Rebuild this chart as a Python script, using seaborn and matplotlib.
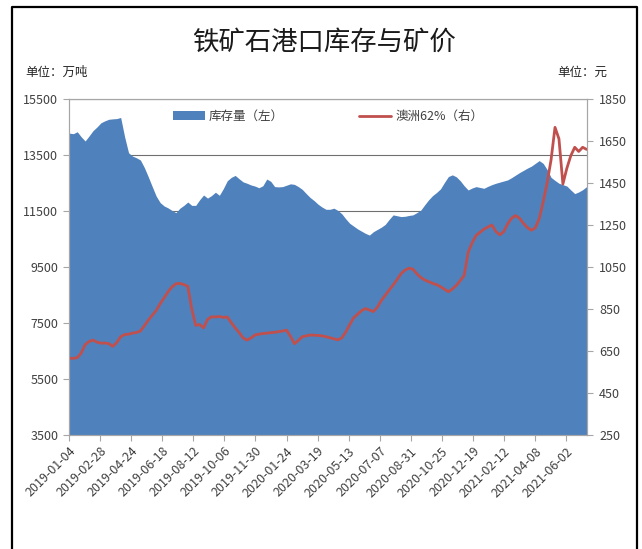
import numpy as np
import pandas as pd
import seaborn as sns
import matplotlib.pyplot as plt
import matplotlib.dates as mdates
from matplotlib.patches import Patch
from matplotlib.lines import Line2D

# 주간 데이터: 2019-01-04 부터
start_date = "2019-01-04"
n_weeks = 132

# 港口库存 (万吨), 左轴
stock = [
    14280, 14260, 14330, 14150, 14000, 14180, 14370, 14500, 14650, 14720,
    14775, 14790, 14800, 14840, 14150, 13580, 13460, 13400, 13320, 13050,
    12720, 12370, 12030, 11800, 11680, 11610, 11520, 11440, 11600, 11700,
    11820, 11700, 11700, 11900, 12070, 11960, 12050, 12170, 12060, 12300,
    12580, 12700, 12770, 12650, 12540, 12490, 12430, 12390, 12330, 12400,
    12640, 12560, 12370, 12360, 12370, 12420, 12470, 12450, 12370, 12270,
    12120, 11980, 11870, 11740, 11640, 11560, 11560, 11600, 11520, 11400,
    11220, 11060, 10960, 10860, 10780, 10700, 10640, 10760, 10840, 10920,
    11020, 11200, 11360, 11330, 11300, 11310, 11340, 11360, 11440, 11530,
    11720, 11900, 12050, 12160, 12290, 12520, 12730, 12790, 12720, 12580,
    12400, 12250, 12320, 12370, 12340, 12310, 12380, 12440, 12490, 12530,
    12570, 12610, 12690, 12780, 12870, 12950, 13030, 13100, 13200, 13300,
    13200, 12980, 12700, 12590, 12490, 12440, 12390, 12250, 12120, 12180,
    12260, 12370,
]

# 澳洲62% 矿价 (元), 右轴
price = [
    615, 615, 618, 640, 680, 695, 702, 692, 687, 688,
    685, 672, 690, 718, 728, 730, 735, 738, 745, 770,
    797, 820, 843, 875, 903, 932, 955, 970, 972, 966,
    958, 850, 772, 776, 760, 800, 813, 812, 814, 810,
    812, 785, 760, 738, 712, 702, 712, 726, 730, 733,
    735, 737, 739, 742, 745, 749, 720, 685, 700, 718,
    722, 726, 725, 724, 722, 718, 713, 708, 703, 712,
    740, 775, 808, 825, 842, 852, 845, 838, 858, 890,
    915, 940, 964, 990, 1018, 1035, 1044, 1040, 1018, 1000,
    988, 980, 972, 966, 956, 944, 932, 945, 962, 985,
    1010, 1120, 1165, 1200, 1215, 1230, 1240, 1250, 1220, 1203,
    1218, 1255, 1282, 1295, 1282, 1258, 1238, 1225, 1236, 1280,
    1360, 1450, 1560, 1715, 1660, 1445, 1520, 1580, 1620, 1600,
    1620, 1610,
]

title = "铁矿石港口库存与矿价"
stock_label = "库存量（左）"
price_label = "澳洲62%（右）"
tick_dates = pd.date_range("2019-01-04", periods=17, freq="55D")

dates = pd.date_range(start_date, periods=n_weeks, freq="7D")
df = pd.DataFrame({"date": dates, "stock": stock, "price": price})

sns.set_theme(style="white")
plt.rcParams["font.family"] = ["Noto Sans CJK SC", "DejaVu Sans"]

blue = "#4F81BD"
red = "#C0504D"
gray = "#A6A6A6"
txt = "#404040"

fig = plt.figure(figsize=(6.42, 5.49), dpi=100)
ax = fig.add_axes([0.108, 0.2077, 0.8057, 0.612])

# 库存 area
ax.fill_between(df["date"], 3500, df["stock"], color=blue, linewidth=0, zorder=1)
ax.set_ylim(3500, 15500)
ax.set_yticks(np.arange(3500, 15501, 2000))
ax.set_xlim(dates[0], dates[-1])
ax.set_axisbelow(True)
ax.yaxis.grid(True, color="#6F6F6F", linewidth=0.8)
ax.xaxis.grid(False)

# 价格 line on right axis
ax2 = ax.twinx()
sns.lineplot(data=df, x="date", y="price", ax=ax2, color=red, linewidth=2.0)
ax2.set_ylim(250, 1850)
ax2.set_yticks(np.arange(250, 1851, 200))
ax2.set_xlim(dates[0], dates[-1])
ax2.set_xlabel("")
ax2.set_ylabel("")

ax.set_xticks(tick_dates)
ax.xaxis.set_major_formatter(mdates.DateFormatter("%Y-%m-%d"))
plt.setp(ax.get_xticklabels(), rotation=45, ha="right", va="top",
         rotation_mode="anchor", fontsize=9, color=txt)

for a in (ax, ax2):
    for s in a.spines.values():
        s.set_color(gray)
        s.set_linewidth(0.8)
    a.tick_params(axis="both", which="both", direction="out", length=4,
                  width=0.8, color=gray, labelcolor=txt, labelsize=9)
ax.tick_params(axis="y", pad=4, left=True)
ax.tick_params(axis="x", bottom=True, pad=3)
ax2.tick_params(axis="y", right=True, pad=5)

handles = [Patch(facecolor=blue, edgecolor="none"),
           Line2D([0], [0], color=red, linewidth=2)]
ax2.legend(handles, [stock_label, price_label], ncol=2, frameon=False,
           loc="upper center", bbox_to_anchor=(0.5, 1.0), fontsize=9,
           columnspacing=6, handlelength=2.6, handletextpad=0.3,
           labelcolor=txt)

fig.text(0.505, 0.923, title, ha="center", va="center", fontsize=19,
         fontweight="medium", color="#1a1a1a")
fig.text(0.04, 0.869, "单位：万吨", ha="left", va="center", fontsize=9,
         color="#262626")
fig.text(0.868, 0.869, "单位：元", ha="left", va="center", fontsize=9,
         color="#262626")

# 外框 (左, 上, 右)
x0, x1, y_top = 12 / 642, 637 / 642, 1 - 7 / 549
fig.add_artist(Line2D([x0, x0, x1, x1], [0, y_top, y_top, 0],
                      transform=fig.transFigure, color="black", linewidth=1.6))

fig.savefig("out.png", dpi=100)
